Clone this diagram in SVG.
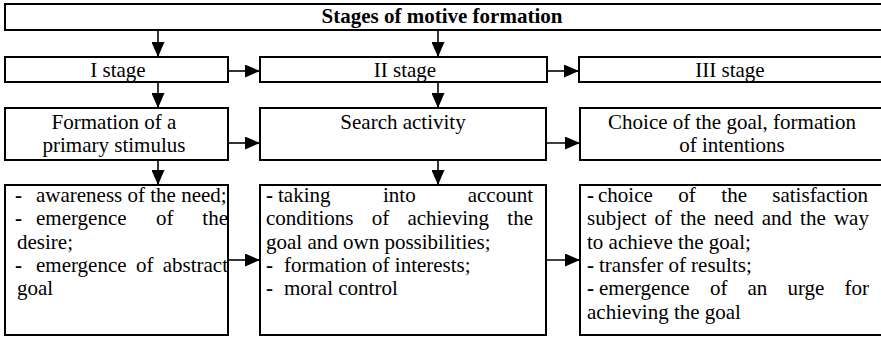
<svg xmlns="http://www.w3.org/2000/svg" width="881" height="337" viewBox="0 0 881 337">
<style>
.box{fill:#fff;stroke:#000;stroke-width:2}
.t{font-family:'Liberation Serif','DejaVu Serif','Times New Roman',serif;font-size:21px;fill:#000}
.c{text-anchor:middle}
.b{font-weight:bold}
.con line{stroke:#000;stroke-width:1.6;marker-end:url(#ah)}
</style>
<defs>
<marker id="ah" markerUnits="userSpaceOnUse" markerWidth="15" markerHeight="13" refX="15" refY="6.5" orient="auto">
<path d="M0,0 L15,6.5 L0,13 z" fill="#000"/>
</marker>
</defs>
<rect width="881" height="337" fill="#fff"/>
<g id="title">
<rect class="box" x="5" y="4" width="880" height="26"/>
<text class="t c b" x="442" y="23">Stages of motive formation</text>
</g>
<g id="stage1">
<rect class="box" x="5" y="57" width="223" height="25"/>
<text class="t c" x="118" y="77">I stage</text>
</g>
<g id="stage2">
<rect class="box" x="260" y="57" width="287" height="25"/>
<text class="t c" x="405" y="77">II stage</text>
</g>
<g id="stage3">
<rect class="box" x="579" y="57" width="306" height="25"/>
<text class="t c" x="730" y="77">III stage</text>
</g>
<g id="primary">
<rect class="box" x="5" y="108" width="223" height="52"/>
<text class="t c" x="114" y="129">Formation of a</text>
<text class="t c" x="114" y="152">primary stimulus</text>
</g>
<g id="search">
<rect class="box" x="260" y="108" width="286" height="52"/>
<text class="t c" x="403" y="129">Search activity</text>
</g>
<g id="choice">
<rect class="box" x="580" y="108" width="305" height="52"/>
<text class="t c" x="732" y="129">Choice of the goal, formation</text>
<text class="t c" x="732" y="152">of intentions</text>
</g>
<g id="list1">
<rect class="box" x="5" y="185" width="223" height="150"/>
<text class="t"><tspan class="b" x="15" y="202">-</tspan><tspan x="36" y="202">awareness of the need;</tspan></text>
<text class="t"><tspan class="b" x="15" y="225.3">-</tspan><tspan x="36" y="225.3">emergence</tspan><tspan x="156" y="225.3">of</tspan><tspan x="202.3" y="225.3">the</tspan></text>
<text class="t" x="17" y="248.6">desire;</text>
<text class="t"><tspan class="b" x="15" y="271.9">-</tspan><tspan x="36" y="271.9">emergence</tspan><tspan x="136" y="271.9">of</tspan><tspan x="162.7" y="271.9">abstract</tspan></text>
<text class="t" x="17" y="295.2">goal</text>
</g>
<g id="list2">
<rect class="box" x="260" y="185" width="286" height="150"/>
<text class="t"><tspan class="b" x="266" y="202">-</tspan><tspan x="278" y="202">taking</tspan><tspan x="383" y="202">into</tspan><tspan x="467.7" y="202">account</tspan></text>
<text class="t"><tspan x="266" y="225.3">conditions</tspan><tspan x="371.7" y="225.3">of</tspan><tspan x="407.4" y="225.3">achieving</tspan><tspan x="507.3" y="225.3">the</tspan></text>
<text class="t" x="266" y="248.6">goal and own possibilities;</text>
<text class="t"><tspan class="b" x="266" y="271.9">-</tspan><tspan x="284" y="271.9">formation of interests;</tspan></text>
<text class="t"><tspan class="b" x="266" y="295.2">-</tspan><tspan x="284" y="295.2">moral control</tspan></text>
</g>
<g id="list3">
<rect class="box" x="580" y="185" width="305" height="150"/>
<text class="t"><tspan class="b" x="587" y="202">-</tspan><tspan x="598" y="202">choice</tspan><tspan x="678.2" y="202">of</tspan><tspan x="721.3" y="202">the</tspan><tspan x="772.3" y="202">satisfaction</tspan></text>
<text class="t"><tspan x="587" y="225.3">subject</tspan><tspan x="654.6" y="225.3">of</tspan><tspan x="680.2" y="225.3">the</tspan><tspan x="714" y="225.3">need</tspan><tspan x="761.7" y="225.3">and</tspan><tspan x="800.1" y="225.3">the</tspan><tspan x="833.9" y="225.3">way</tspan></text>
<text class="t" x="587" y="248.6">to achieve the goal;</text>
<text class="t"><tspan class="b" x="587" y="271.9">-</tspan><tspan x="599" y="271.9">transfer of results;</tspan></text>
<text class="t"><tspan class="b" x="587" y="295.2">-</tspan><tspan x="599" y="295.2">emergence</tspan><tspan x="710" y="295.2">of</tspan><tspan x="747.5" y="295.2">an</tspan><tspan x="787.5" y="295.2">urge</tspan><tspan x="844.5" y="295.2">for</tspan></text>
<text class="t" x="587" y="318.5">achieving the goal</text>
</g>
<g id="connectors" class="con">
<line x1="158" y1="30" x2="158" y2="57"/>
<line x1="438" y1="30" x2="438" y2="57"/>
<line x1="158" y1="82" x2="158" y2="108"/>
<line x1="438" y1="82" x2="438" y2="108"/>
<line x1="158" y1="160" x2="158" y2="185"/>
<line x1="438" y1="160" x2="438" y2="185"/>
<line x1="228" y1="71" x2="260" y2="71"/>
<line x1="547" y1="71" x2="579" y2="71"/>
<line x1="228" y1="143" x2="260" y2="143"/>
<line x1="546" y1="143" x2="580" y2="143"/>
<line x1="228" y1="260" x2="260" y2="260"/>
<line x1="546" y1="260" x2="580" y2="260"/>
</g>
</svg>
